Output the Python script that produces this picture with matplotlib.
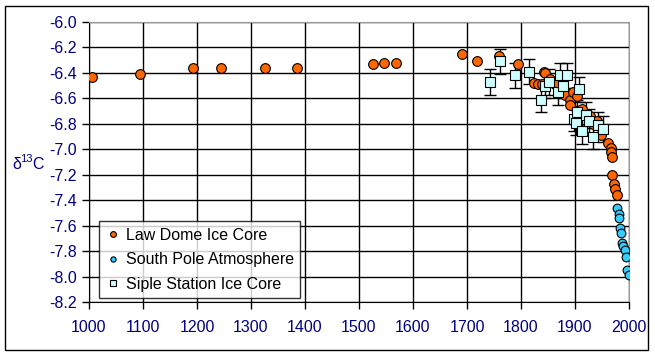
import matplotlib
matplotlib.use("Agg")
import matplotlib.pyplot as plt

plt.rcParams['font.family'] = ['Liberation Sans', 'DejaVu Sans']

# Law Dome ice core
law_year = [1005, 1094, 1193, 1245, 1326, 1385, 1526, 1546, 1568, 1691, 1718, 1759,
            1794, 1824, 1831, 1839, 1843, 1844, 1854, 1863, 1881, 1891, 1891, 1896,
            1904, 1913, 1918, 1928, 1933, 1940, 1948, 1961, 1966, 1966, 1969, 1969,
            1973, 1974, 1978]
law_d13c = [-6.43, -6.41, -6.36, -6.36, -6.36, -6.36, -6.33, -6.32, -6.32, -6.25, -6.31, -6.27,
            -6.33, -6.48, -6.49, -6.49, -6.39, -6.40, -6.45, -6.49, -6.57, -6.61, -6.65, -6.55,
            -6.58, -6.68, -6.73, -6.74, -6.80, -6.78, -6.89, -6.95, -6.99, -7.02, -7.06, -7.20,
            -7.27, -7.31, -7.36]

# South Pole atmosphere
sp_year = [1978, 1981, 1981, 1983, 1985, 1987, 1989, 1992, 1995, 1996, 2000]
sp_d13c = [-7.46, -7.51, -7.54, -7.62, -7.66, -7.74, -7.76, -7.79, -7.85, -7.95, -7.99]

# Siple Station ice core
siple_year = [1743, 1761, 1789, 1815, 1837, 1844, 1852, 1868, 1872, 1877, 1885, 1898,
              1902, 1904, 1907, 1913, 1920, 1926, 1933, 1943, 1952]
siple_d13c = [-6.47, -6.31, -6.42, -6.39, -6.61, -6.50, -6.47, -6.55, -6.42, -6.50, -6.42, -6.76,
              -6.79, -6.71, -6.53, -6.86, -6.73, -6.78, -6.90, -6.81, -6.84]
siple_err = 0.1

navy = '#000080'
fs = 11.5

fig = plt.figure(figsize=(6.55, 3.56), dpi=100)
ax = fig.add_axes([89/655, 1-302/356, 540/655, 280/356])

ax.errorbar(siple_year, siple_d13c, yerr=siple_err, fmt='none', ecolor='black',
            elinewidth=1, capsize=4, zorder=3)
ax.errorbar(law_year, law_d13c, yerr=0.015, fmt='none', ecolor='black',
            elinewidth=1, capsize=3, zorder=3)
ax.plot(law_year, law_d13c, 'o', ms=7, mfc='#FF6600', mec='black', mew=0.8,
        ls='none', zorder=4, label='Law Dome Ice Core')
ax.plot(sp_year, sp_d13c, 'o', ms=6.3, mfc='#33CCFF', mec='black', mew=0.8,
        ls='none', zorder=4, label='South Pole Atmosphere')
ax.plot(siple_year, siple_d13c, 's', ms=7, mfc='#CCFFFF', mec='black', mew=0.8,
        ls='none', zorder=5, label='Siple Station Ice Core')

ax.set_xlim(1000, 2000)
ax.set_ylim(-8.2, -6.0)
ax.set_xticks(range(1000, 2001, 100))
ax.set_yticks([-6.0 - 0.2*i for i in range(12)])
ax.set_yticklabels(['%.1f' % (-6.0 - 0.2*i) for i in range(12)])
ax.grid(True, color='black', lw=1)
ax.set_axisbelow(True)
ax.tick_params(direction='out', length=5, width=1, color='black',
               labelsize=fs, labelcolor=navy)
ax.tick_params(axis='x', pad=8)
for s in ['top', 'right']:
    ax.spines[s].set_color('#999999')
for s in ['left', 'bottom']:
    ax.spines[s].set_color('black')

leg = ax.legend(loc='lower left', bbox_to_anchor=(0.018, 0.014), borderaxespad=0,
                fontsize=fs, frameon=True, fancybox=False, handletextpad=0.3,
                handlelength=1.0, markerscale=0.6, borderpad=0.4, labelspacing=0.6)
leg.get_frame().set_edgecolor('black')
leg.get_frame().set_linewidth(1)

fig.text(12/655, 1-169/356, 'δ', fontsize=fs, color=navy, va='baseline')
fig.text(20/655, 1-162/356, '13', fontsize=8, color=navy, va='baseline')
fig.text(32/655, 1-169/356, 'C', fontsize=fs, color=navy, va='baseline')

fig.add_artist(plt.Rectangle((5/655, 6/356), 643/655, 344/356, transform=fig.transFigure,
                             fill=False, edgecolor='black', lw=1))

fig.savefig('out.png', dpi=100)
